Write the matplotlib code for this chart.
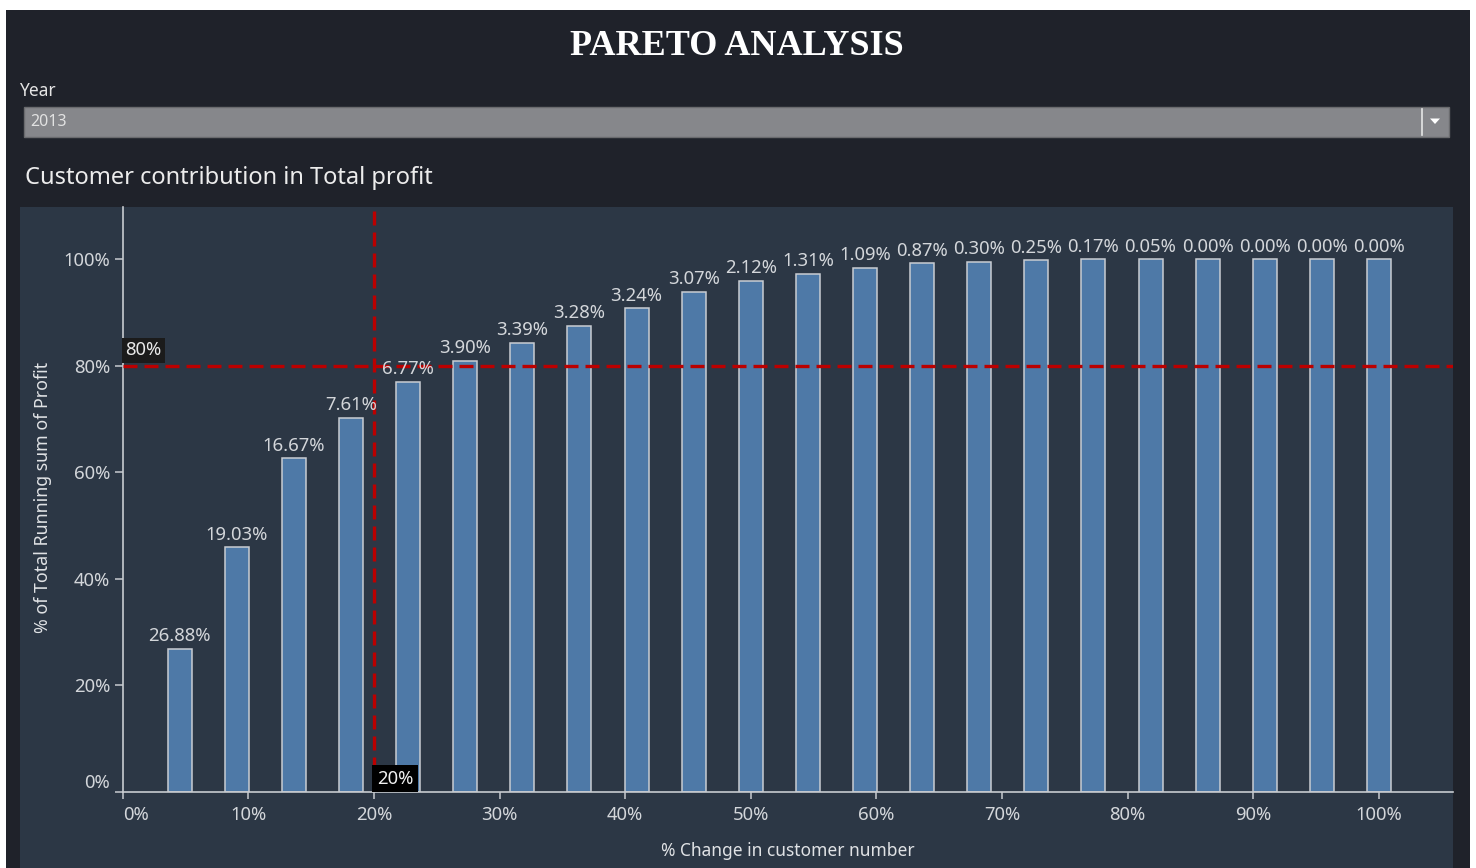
import matplotlib
matplotlib.use("Agg")
import matplotlib.pyplot as plt
from matplotlib.patches import Rectangle, Polygon
import numpy as np

# ---------------- data ----------------
customer_pct = [4.55, 9.09, 13.64, 18.18, 22.73, 27.27, 31.82, 36.36, 40.91, 45.45, 50.00,
                54.55, 59.09, 63.64, 68.18, 72.73, 77.27, 81.82, 86.36, 90.91, 95.45, 100.00]
contribution = [26.88, 19.03, 16.67, 7.61, 6.77, 3.90, 3.39, 3.28, 3.24, 3.07, 2.12,
                1.31, 1.09, 0.87, 0.30, 0.25, 0.17, 0.05, 0.00, 0.00, 0.00, 0.00]
running_sum = np.cumsum(contribution)
x_ticks = [0, 10, 20, 30, 40, 50, 60, 70, 80, 90, 100]
y_ticks = [0, 20, 40, 60, 80, 100]
ref_x = 20
ref_y = 80

# ---------------- style ----------------
W, H = 1476, 868
OUTER = "#1f222a"
PLOT_BG = "#2c3745"
BAR = "#4e79a7"
EDGE = "#c9cdd2"
TXT = "#d3d6da"
RED = "#bb0000"
FS = 13.3
FONT = ["Noto Sans", "DejaVu Sans"]
plt.rcParams["font.family"] = FONT

def px(x):
    return x / W

def py(y):
    return 1 - y / H

fig = plt.figure(figsize=(W / 100, H / 100), dpi=100, facecolor="white")

# outer dark panel
fig.patches.append(Rectangle((px(6), 0), px(1470) - px(6), py(10), transform=fig.transFigure,
                             facecolor=OUTER, edgecolor="none", zorder=-3))
# plot background panel
fig.patches.append(Rectangle((px(20), 0), px(1453) - px(20), py(207), transform=fig.transFigure,
                             facecolor=PLOT_BG, edgecolor="none", zorder=-2))
# dropdown
fig.patches.append(Rectangle((px(24), py(136.5)), px(1449) - px(24), py(107) - py(136.5),
                             transform=fig.transFigure, facecolor="#86878b", edgecolor="#6a6b6e",
                             linewidth=1, zorder=-1))
fig.lines.append(plt.Line2D([px(1422), px(1422)], [py(109), py(134.5)], transform=fig.transFigure,
                            color="#e6e6e6", linewidth=1.2, zorder=2))
fig.patches.append(Polygon([[px(1430), py(118.5)], [px(1440), py(118.5)], [px(1435), py(124)]],
                           closed=True, transform=fig.transFigure, facecolor="white",
                           edgecolor="none", zorder=2))

# texts outside plot
fig.text(px(737), py(46.5), "PARETO ANALYSIS", ha="center", va="center", color="white",
         fontsize=26, fontweight="bold", family=["Liberation Serif", "DejaVu Serif"])
fig.text(px(19), py(91), "Year", ha="left", va="center", color="#e4e4e4", fontsize=12.5)
fig.text(px(30), py(122.5), "2013", ha="left", va="center", color="#e2e2e2", fontsize=11.5)
fig.text(px(25), py(178), "Customer contribution in Total profit", ha="left", va="center",
         color="#ececec", fontsize=17)
fig.text(px(42.7), py(497.5), "% of Total Running sum of Profit", ha="center", va="center",
         rotation=90, color="#e0e2e5", fontsize=12.8)
fig.text(px(788), py(850.5), "% Change in customer number", ha="center", va="center",
         color="#e0e2e5", fontsize=12.5)

# ---------------- axes ----------------
ax = fig.add_axes([px(122.7), py(791.7), px(1453) - px(122.7), py(207) - py(791.7)])
ax.set_zorder(5)
ax.set_facecolor(PLOT_BG)
ax.patch.set_alpha(0)
ax.set_xlim(0, 105.9)
ax.set_ylim(0, 109.8)

ax.bar(customer_pct, running_sum, width=1.91, color=BAR, edgecolor=EDGE, linewidth=1.1, zorder=2)

for xv, yv, c in zip(customer_pct, running_sum, contribution):
    ax.annotate(f"{c:.2f}%", (xv, yv), xytext=(0, 2.6), textcoords="offset points",
                ha="center", va="bottom", color=TXT, fontsize=FS, zorder=4)

ax.axhline(ref_y, color=RED, linewidth=2.4, linestyle=(0, (4.2, 2.1)), zorder=3)
ax.axvline(ref_x, color=RED, linewidth=2.4, linestyle=(0, (4.2, 2.1)), zorder=3)

ax.text(0.2, ref_y + 1.2, f"{ref_y}%", ha="left", va="bottom", color="#e8e8e8", fontsize=FS,
        zorder=5, bbox=dict(boxstyle="square,pad=0.2", facecolor="#1b1b1b", edgecolor="none"))
ax.text(ref_x + 0.25, 0.75, f"{ref_x}%", ha="left", va="bottom", color="#f0f0f0", fontsize=FS,
        zorder=5, bbox=dict(boxstyle="square,pad=0.25", facecolor="#000000", edgecolor="none"))

ax.set_xticks(x_ticks)
ax.set_xticklabels([f"{t}%" for t in x_ticks])
ax.set_yticks(y_ticks)
ax.set_yticklabels([f"{t}%" for t in y_ticks])
ax.tick_params(axis="x", colors="#c8cbd0", labelcolor=TXT, length=5, width=1.1, pad=5.5,
               labelsize=FS)
ax.tick_params(axis="y", colors="#c8cbd0", labelcolor=TXT, length=6, width=1.1, pad=3,
               labelsize=FS)
ax.get_xticklabels()[0].set_horizontalalignment("left")
ax.get_yticklabels()[0].set_verticalalignment("bottom")
for s in ["top", "right"]:
    ax.spines[s].set_visible(False)
for s in ["left", "bottom"]:
    ax.spines[s].set_color("#c8cbd0")
    ax.spines[s].set_linewidth(1.2)

fig.savefig("out.png", dpi=100, facecolor=fig.get_facecolor())
